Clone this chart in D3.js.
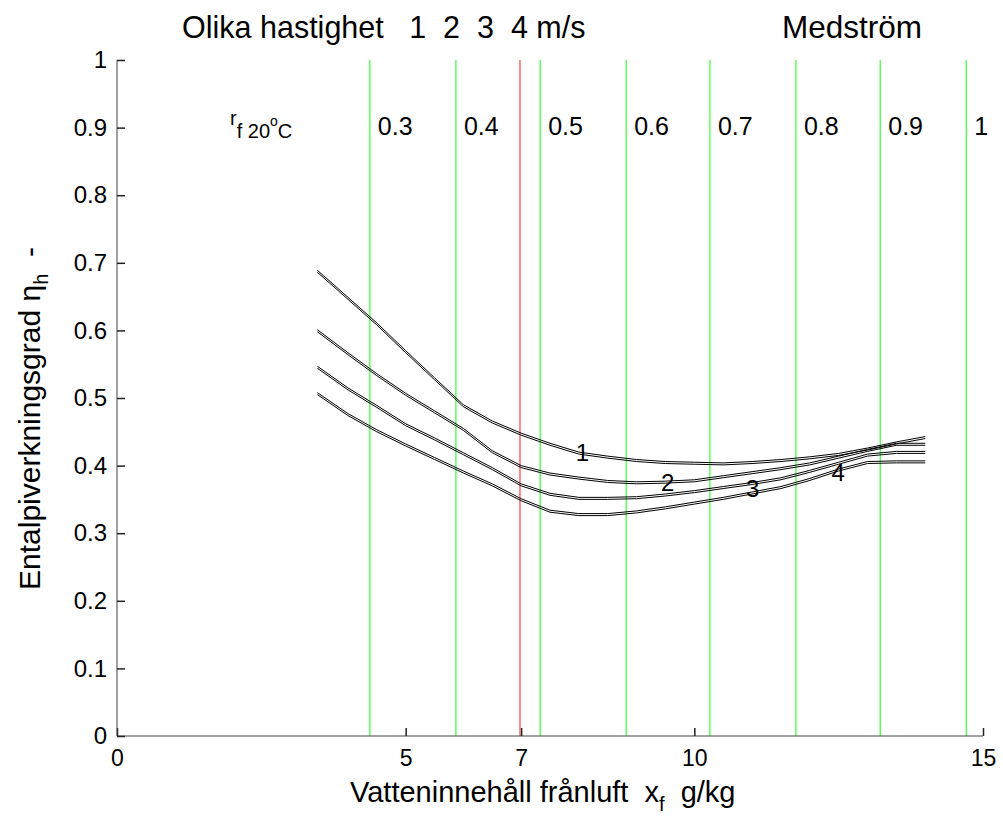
<!DOCTYPE html>
<html>
<head>
<meta charset="utf-8">
<script src="https://cdn.jsdelivr.net/npm/d3@7"></script>
<style>
  body { margin: 0; background: #fff; }
  text { font-family: "Liberation Sans", Arial, sans-serif; fill: #000; }
</style>
</head>
<body>
<div id="chart"></div>
<script>
// x values (g/kg) shared by the four velocity curves
var xs = [3.47, 4.0, 4.5, 5.0, 5.5, 6.0, 6.5, 7.0, 7.5, 8.0, 8.5, 9.0, 9.5, 10.0, 10.5, 11.0, 11.5, 12.0, 12.5, 13.0, 13.5, 14.0];
var curve1 = [0.689, 0.649, 0.611, 0.570, 0.530, 0.490, 0.466, 0.448, 0.433, 0.420, 0.414, 0.409, 0.406, 0.405, 0.404, 0.406, 0.409, 0.413, 0.418, 0.426, 0.435, 0.443];
var curve2 = [0.601, 0.567, 0.536, 0.507, 0.481, 0.455, 0.422, 0.400, 0.389, 0.383, 0.378, 0.376, 0.377, 0.379, 0.385, 0.391, 0.397, 0.404, 0.414, 0.424, 0.433, 0.433];
var curve3 = [0.547, 0.515, 0.489, 0.462, 0.441, 0.419, 0.397, 0.373, 0.359, 0.353, 0.353, 0.354, 0.358, 0.363, 0.369, 0.375, 0.382, 0.393, 0.405, 0.417, 0.421, 0.421];
var curve4 = [0.508, 0.477, 0.453, 0.432, 0.412, 0.392, 0.373, 0.351, 0.334, 0.329, 0.329, 0.333, 0.339, 0.346, 0.353, 0.361, 0.369, 0.381, 0.395, 0.406, 0.407, 0.407];
var curves = [curve1, curve2, curve3, curve4];

// curve labels: name, x, y
var curveNames = ["1", "2", "3", "4"];
var labelX = [8.06, 9.54, 11.01, 12.49];
var labelY = [0.419, 0.375, 0.366, 0.390];

// relative humidity lines (r_f at 20 C)
var rhX = [4.38, 5.87, 7.33, 8.82, 10.27, 11.76, 13.22, 14.71];
var rhLabels = ["0.3", "0.4", "0.5", "0.6", "0.7", "0.8", "0.9", "1"];
var redX = 6.98;

var xTicks = [0, 5, 7, 10, 15];
var yTicks = [0, 0.1, 0.2, 0.3, 0.4, 0.5, 0.6, 0.7, 0.8, 0.9, 1];

var width = 1003, height = 823;
var svg = d3.select("#chart").append("svg")
    .attr("width", width)
    .attr("height", height);

var x = d3.scaleLinear().domain([0, 15]).range([117, 983]);
var y = d3.scaleLinear().domain([0, 1]).range([736, 60]);

// vertical rh lines
svg.selectAll(".rh").data(rhX).enter().append("line")
    .attr("class", "rh")
    .attr("x1", d => x(d)).attr("x2", d => x(d))
    .attr("y1", y(1)).attr("y2", y(0))
    .attr("stroke", "#33ff33")
    .attr("stroke-width", 1.2);

svg.append("line")
    .attr("x1", x(redX)).attr("x2", x(redX))
    .attr("y1", y(1)).attr("y2", y(0))
    .attr("stroke", "#ff4040")
    .attr("stroke-width", 1.2);

svg.selectAll(".rhlab").data(rhX).enter().append("text")
    .attr("class", "rhlab")
    .attr("x", d => x(d) + 8)
    .attr("y", 135)
    .style("font-size", "25px")
    .text((d, i) => rhLabels[i]);

// r_f 20oC label
var rf = svg.append("text").attr("x", 230).attr("y", 125).style("font-size", "20px");
rf.append("tspan").text("r");
rf.append("tspan").attr("dy", 13).text("f 20");
rf.append("tspan").attr("dy", -12).style("font-size", "14px").text("o");
rf.append("tspan").attr("dy", 12).text("C");

// axes (MATLAB style, left and bottom only, ticks inside)
var xAxis = d3.axisBottom(x).tickValues(xTicks).tickSize(-8).tickPadding(14)
    .tickFormat(d3.format("d"));
var gx = svg.append("g").attr("transform", "translate(0," + y(0) + ")").call(xAxis);
gx.attr("font-size", null).attr("font-family", null);
gx.select(".domain").attr("stroke", "#444").attr("d", "M" + x(0) + ",0H" + x(15));
gx.selectAll(".tick line").attr("stroke", "#222").attr("stroke-width", 1.5);
gx.selectAll(".tick text").style("font-size", "23px").attr("fill", "#000");

var yAxis = d3.axisLeft(y).tickValues(yTicks).tickSize(-8).tickPadding(10)
    .tickFormat(d => d === 0 || d === 1 ? d3.format("d")(d) : d3.format(".1f")(d));
var gy = svg.append("g").attr("transform", "translate(" + x(0) + ",0)").call(yAxis);
gy.attr("font-size", null).attr("font-family", null);
gy.select(".domain").attr("stroke", "#444").attr("d", "M0," + y(0) + "V" + y(1));
gy.selectAll(".tick line").attr("stroke", "#222").attr("stroke-width", 1.5);
gy.selectAll(".tick text").style("font-size", "24px").attr("fill", "#000");

// curves, each drawn twice with a slight offset like the original plot
var line = d3.line().x((d, i) => x(xs[i])).y(d => y(d));
[0, 2].forEach(function(off) {
    svg.selectAll(".c" + off).data(curves).enter().append("path")
        .attr("class", "c" + off)
        .attr("d", d => line(d))
        .attr("transform", "translate(0," + off + ")")
        .attr("fill", "none")
        .attr("stroke", "#000")
        .attr("stroke-width", 1);
});

svg.selectAll(".clab").data(curveNames).enter().append("text")
    .attr("class", "clab")
    .attr("x", (d, i) => x(labelX[i]))
    .attr("y", (d, i) => y(labelY[i]))
    .attr("text-anchor", "middle")
    .attr("dominant-baseline", "central")
    .style("font-size", "24px")
    .text(d => d);

// titles
svg.append("text").attr("x", 182).attr("y", 38)
    .attr("xml:space", "preserve").style("white-space", "pre")
    .style("font-size", "30.5px")
    .text("Olika hastighet   1  2  3  4 m/s");
svg.append("text").attr("x", 782).attr("y", 38)
    .style("font-size", "31.5px")
    .text("Medström");

// x label
var xl = svg.append("text").attr("x", 350).attr("y", 802)
    .attr("xml:space", "preserve").style("white-space", "pre")
    .style("font-size", "29px");
xl.append("tspan").text("Vatteninnehåll frånluft  x");
xl.append("tspan").attr("dy", 9).style("font-size", "20px").text("f");
xl.append("tspan").attr("dy", -9).text("  g/kg");

// y label
var yl = svg.append("text")
    .attr("transform", "translate(40,590) rotate(-90)")
    .attr("xml:space", "preserve").style("white-space", "pre")
    .style("font-size", "30px");
yl.append("tspan").text("Entalpiverkningsgrad η");
yl.append("tspan").attr("dy", 8).style("font-size", "20px").text("h");
yl.append("tspan").attr("dy", -8).text("  -");
</script>
</body>
</html>
